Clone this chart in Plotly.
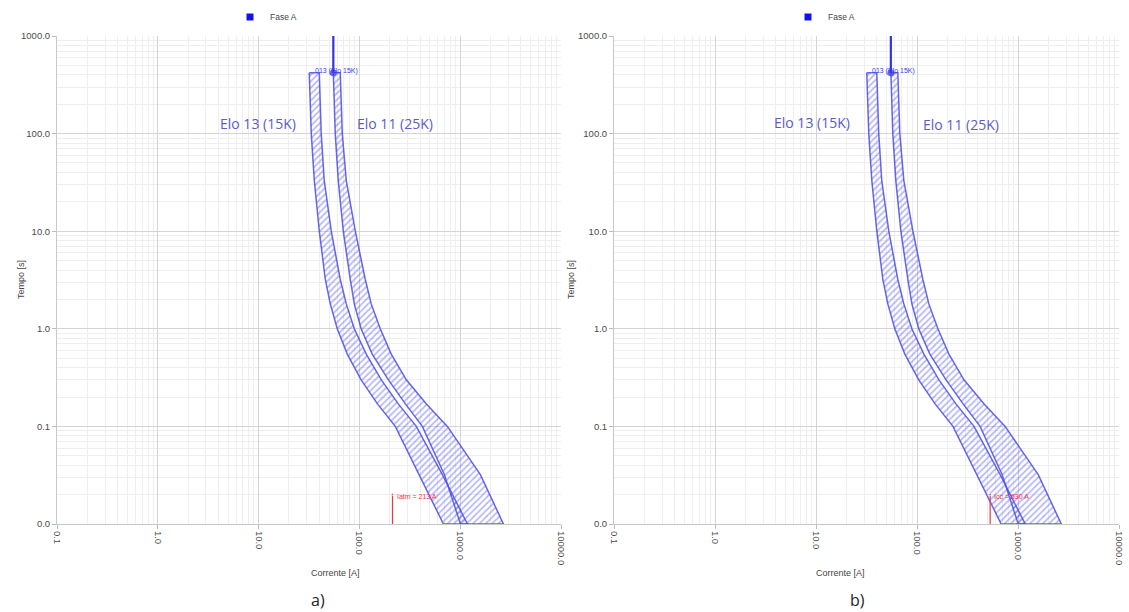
import math
import plotly.graph_objects as go

# ---- data ----
times = [420, 100, 33, 10, 3.2, 1.8, 1.0, 0.55, 0.3, 0.17, 0.1, 0.032, 0.01]          # s
elo13_min = [31.8, 33.3, 35.7, 40.0, 45.9, 51.4, 60.3, 75.8, 104, 151, 227, 393, 681]  # A
elo13_max = [40.0, 41.8, 44.8, 52.6, 64.6, 74.1, 89.0, 117, 165, 243, 367, 666, 1179]
elo11_min = [55.1, 57.6, 61.7, 69.2, 81.2, 89.0, 104, 134, 194, 286, 421, 697, 1005]
elo11_max = [64.6, 67.6, 74.1, 91.1, 114.4, 131, 161, 207, 292, 462, 746, 1586, 2685]

vline_current = 55.1
vline_times = [1000, 420]

red_current = [213, 530]
red_times = [0.01, 0.02]
red_labels = ["Iatm = 213 A", "Icc = 530 A"]

label13_pos = [(9.9, 128), (9.1, 130)]
label11_pos = [(227, 126), (273, 124)]

x_ticks = [0.1, 1, 10, 100, 1000, 10000]
x_ticktext = ["0.1", "1.0", "10.0", "100.0", "1000.0", "10000.0"]
y_ticks = [0.01, 0.1, 1, 10, 100, 1000]
y_ticktext = ["0.0", "0.1", "1.0", "10.0", "100.0", "1000.0"]

captions = ["a)", "b)"]
# -------------------------------------

W, H = 1129, 612
L, R, T, B = 57, 10, 36, 88
pw = W - L - R
ph = H - T - B
dom1 = [0.0, 504 / pw]
dom2 = [557 / pw, 1.0]

fig = go.Figure()
band_line = "rgba(75,75,228,0.85)"
band_hatch = "rgba(80,80,235,0.85)"

panels = [("x", "y", "legend", dom1), ("x2", "y2", "legend2", dom2)]
for k, (xa, ya, leg, dom) in enumerate(panels):
    for mn, mx in [(elo13_min, elo13_max), (elo11_min, elo11_max)]:
        xs = mn + mx[::-1] + [mn[0]]
        ys = times + times[::-1] + [times[0]]
        fig.add_trace(go.Scatter(
            x=xs, y=ys, xaxis=xa, yaxis=ya, mode="lines", fill="toself",
            fillcolor="rgba(0,0,0,0)",
            fillpattern=dict(shape="/", fgcolor=band_hatch, bgcolor="rgba(0,0,0,0)",
                             size=4.5, solidity=0.38),
            line=dict(color=band_line, width=1.5),
            showlegend=False, hoverinfo="skip"))
    fig.add_trace(go.Scatter(
        x=[vline_current, vline_current], y=vline_times, xaxis=xa, yaxis=ya,
        mode="lines", line=dict(color="rgba(40,40,225,0.95)", width=2.2),
        showlegend=False, hoverinfo="skip"))
    fig.add_trace(go.Scatter(
        x=[vline_current], y=[vline_times[1]], xaxis=xa, yaxis=ya,
        mode="markers", marker=dict(color="rgba(60,60,230,0.75)", size=7),
        showlegend=False, hoverinfo="skip"))
    fig.add_trace(go.Scatter(
        x=[red_current[k], red_current[k]], y=red_times, xaxis=xa, yaxis=ya,
        mode="lines+markers", line=dict(color="#e8393d", width=1.2),
        marker=dict(symbol="triangle-up", size=[0, 4], color="#e8393d"),
        showlegend=False, hoverinfo="skip"))
    fig.add_trace(go.Scatter(
        x=[None], y=[None], xaxis=xa, yaxis=ya, mode="markers",
        marker=dict(symbol="square", color="#1414e0", size=7),
        name="Fase A", legend=leg))

tickfont = dict(size=9.5, color="#4a4a4a", family="Liberation Sans")
axis_common_x = dict(
    type="log", range=[-1, 4], tickvals=x_ticks, ticktext=x_ticktext,
    tickangle=90, showgrid=True, gridcolor="#d4d4d4", gridwidth=1,
    minor=dict(dtick="D1", showgrid=True, gridcolor="#eeeeee", ticks=""),
    showline=True, linecolor="#c8c8c8", ticks="outside", ticklen=4,
    tickcolor="#bbbbbb", tickfont=tickfont, zeroline=False, automargin=False)
axis_common_y = dict(
    type="log", range=[-2, 3], tickvals=y_ticks, ticktext=y_ticktext,
    showgrid=True, gridcolor="#d4d4d4", gridwidth=1,
    minor=dict(dtick="D1", showgrid=True, gridcolor="#eeeeee", ticks=""),
    showline=True, linecolor="#c8c8c8", ticks="outside", ticklen=4,
    tickcolor="#bbbbbb", tickfont=tickfont, zeroline=False, domain=[0, 1],
    automargin=False)

annotations = []
for k, (xa, ya, leg, dom) in enumerate(panels):
    xr = "x" if k == 0 else "x2"
    yr = "y" if k == 0 else "y2"
    cx = (dom[0] + dom[1]) / 2
    annotations += [
        dict(xref=xr, yref=yr, x=math.log10(label13_pos[k][0]),
             y=math.log10(label13_pos[k][1]),
             text="Elo 13 (15K)", showarrow=False,
             font=dict(size=14, color="#5b5bc8", family="Open Sans")),
        dict(xref=xr, yref=yr, x=math.log10(label11_pos[k][0]),
             y=math.log10(label11_pos[k][1]),
             text="Elo 11 (25K)", showarrow=False,
             font=dict(size=14, color="#5b5bc8", family="Open Sans")),
        dict(xref=xr, yref=yr, x=math.log10(34.5), y=math.log10(440),
             text="013 (Elo 15K)", showarrow=False, xanchor="left",
             font=dict(size=7, color="#3a3ae0", family="Liberation Sans")),
        dict(xref=xr, yref=yr, x=math.log10(red_current[k] * 1.05),
             y=math.log10(0.019), text=red_labels[k], showarrow=False,
             xanchor="left",
             font=dict(size=7, color="#e8393d", family="Liberation Sans")),
        dict(xref="paper", yref="paper", x=cx, y=-(573 - 524) / ph,
             text="Corrente [A]", showarrow=False, yanchor="middle",
             font=dict(size=9, color="#444444", family="Liberation Sans")),
        dict(xref="paper", yref="paper",
             x=dom[0] - 43 / pw, y=(524 - 280) / ph,
             text="Tempo [s]", showarrow=False, textangle=-90,
             font=dict(size=9, color="#444444", family="Liberation Sans")),
        dict(xref="paper", yref="paper", x=cx, y=-(600 - 524) / ph,
             text=captions[k], showarrow=False, yanchor="middle",
             font=dict(size=16, color="#222222", family="Open Sans")),
    ]

legend_common = dict(y=1 + 19 / ph, xanchor="center", yanchor="middle",
                     orientation="h", itemwidth=30,
                     font=dict(size=8.5, color="#444444", family="Liberation Sans"),
                     bgcolor="rgba(0,0,0,0)")

fig.update_layout(
    width=W, height=H, margin=dict(l=L, r=R, t=T, b=B, autoexpand=False),
    paper_bgcolor="white", plot_bgcolor="white",
    xaxis=dict(axis_common_x, domain=dom1, anchor="y"),
    yaxis=dict(axis_common_y, anchor="x"),
    xaxis2=dict(axis_common_x, domain=dom2, anchor="y2"),
    yaxis2=dict(axis_common_y, anchor="x2"),
    legend=dict(legend_common, x=(266 - 57) / pw),
    legend2=dict(legend_common, x=(824 - 57) / pw),
    annotations=annotations,
    showlegend=True,
)

# remove the page's default 8 px body margin so the figure fills the window
fig.write_html("out.html",
               config={"displayModeBar": False},
               post_script="document.body.style.margin='0px';document.body.style.overflow='hidden';")
